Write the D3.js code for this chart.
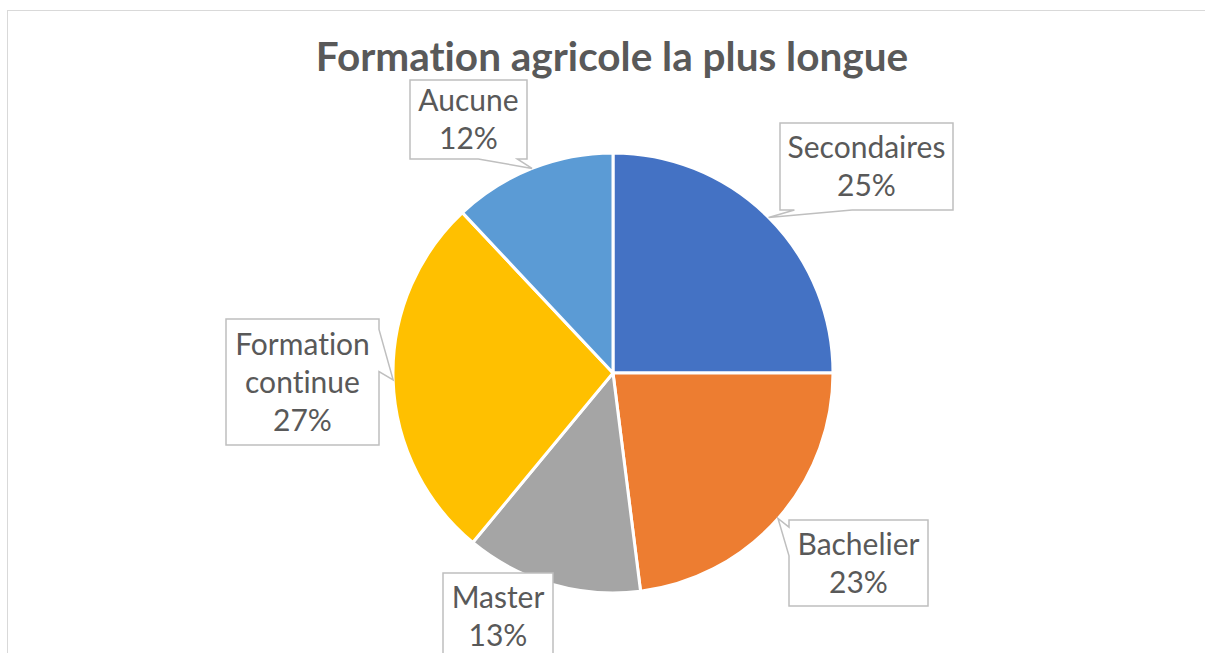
<!DOCTYPE html>
<html>
<head>
<meta charset="utf-8">
<script src="https://cdn.jsdelivr.net/npm/d3@7"></script>
<style>
  body { margin: 0; background: #fff; }
  svg { display: block; }
  text { font-variant-ligatures: none; }
</style>
</head>
<body>
<svg id="chart" width="1205" height="653"></svg>
<script>
// data (percent of answers)
var categories = ["Secondaires", "Bachelier", "Master", "Formation continue", "Aucune"];
var values = [25, 23, 13, 27, 12];
var colors = ["#4472C4", "#ED7D31", "#A5A5A5", "#FFC000", "#5B9BD5"];
// label text split the way the boxes wrap it
var labelLines = [["Secondaires"], ["Bachelier"], ["Master"], ["Formation", "continue"], ["Aucune"]];
// callout boxes, as placed in the original (x, y, w, h)
var labelBoxes = [
  [780, 123, 173, 87],
  [789, 520, 139, 86],
  [443, 573, 110, 86],
  [226, 319, 153, 126],
  [410, 80, 117, 79]
];

var svg = d3.select("#chart");
var cx = 613, cy = 373, radius = 220;
var textColor = "#595959";

// chart frame (only top and left edges fall inside the picture)
svg.append("rect")
  .attr("x", 7.5).attr("y", 10.5)
  .attr("width", 1300).attr("height", 800)
  .attr("fill", "none").attr("stroke", "#D9D9D9").attr("stroke-width", 1);

svg.append("text")
  .attr("x", 612).attr("y", 71)
  .attr("text-anchor", "middle")
  .attr("font-family", "Lato, 'Open Sans', sans-serif")
  .attr("font-weight", "bold")
  .attr("font-size", 40.5)
  .attr("fill", textColor)
  .text("Formation agricole la plus longue");

var pie = d3.pie().sort(null).value(function(d) { return d; });
var arcs = pie(values);
var arc = d3.arc().innerRadius(0).outerRadius(radius);

var g = svg.append("g").attr("transform", "translate(" + cx + "," + cy + ")");
g.selectAll("path.slice")
  .data(arcs)
  .enter().append("path")
  .attr("class", "slice")
  .attr("d", arc)
  .attr("fill", function(d, i) { return colors[i]; })
  .attr("stroke", "#fff")
  .attr("stroke-width", 3)
  .attr("stroke-linejoin", "round");

// Excel style wedge callout: box with a pointer to the tip
function calloutPath(b, tx, ty) {
  var x0 = b[0], y0 = b[1], w = b[2], h = b[3], x1 = x0 + w, y1 = y0 + h;
  var hc = x0 + w / 2, vc = y0 + h / 2;
  var dx = tx - hc, dy = ty - vc;
  var p = d3.path();
  p.moveTo(x0, y0);
  if (Math.abs(dx) < w / 2 + 2 && Math.abs(dy) < h / 2 + 2) {
    p.lineTo(x1, y0); p.lineTo(x1, y1); p.lineTo(x0, y1); p.closePath();
    return p.toString();
  }
  var vert = Math.abs(dy) / h > Math.abs(dx) / w;
  var a, c;
  if (vert) {
    a = dx < 0 ? x0 + w / 12 : x0 + 7 * w / 12;
    c = dx < 0 ? x0 + 5 * w / 12 : x0 + 11 * w / 12;
  } else {
    a = dy < 0 ? y0 + h / 12 : y0 + 7 * h / 12;
    c = dy < 0 ? y0 + 5 * h / 12 : y0 + 11 * h / 12;
  }
  // top edge
  if (vert && dy < 0) { p.lineTo(a, y0); p.lineTo(tx, ty); p.lineTo(c, y0); }
  p.lineTo(x1, y0);
  // right edge
  if (!vert && dx > 0) { p.lineTo(x1, a); p.lineTo(tx, ty); p.lineTo(x1, c); }
  p.lineTo(x1, y1);
  // bottom edge (right to left)
  if (vert && dy > 0) { p.lineTo(c, y1); p.lineTo(tx, ty); p.lineTo(a, y1); }
  p.lineTo(x0, y1);
  // left edge (bottom to top)
  if (!vert && dx < 0) { p.lineTo(x0, c); p.lineTo(tx, ty); p.lineTo(x0, a); }
  p.closePath();
  return p.toString();
}

var labels = svg.append("g");
arcs.forEach(function(d, i) {
  var mid = (d.startAngle + d.endAngle) / 2;
  var tx = cx + radius * Math.sin(mid);
  var ty = cy - radius * Math.cos(mid);
  var b = labelBoxes[i];
  labels.append("path")
    .attr("d", calloutPath(b, tx, ty))
    .attr("fill", "#fff")
    .attr("stroke", "#BFBFBF")
    .attr("stroke-width", 1.5);

  var lines = labelLines[i].concat([Math.round(d.data) + "%"]);
  var lineH = 38;
  var startY = b[1] + b[3] / 2 - (lines.length - 1) * lineH / 2;
  var t = labels.append("text")
    .attr("text-anchor", "middle")
    .attr("font-family", "Lato, 'Open Sans', sans-serif")
    .attr("font-size", 30)
    .attr("fill", textColor);
  lines.forEach(function(s, k) {
    t.append("tspan")
      .attr("x", b[0] + b[2] / 2)
      .attr("y", startY + k * lineH)
      .attr("dy", "0.35em")
      .text(s);
  });
});
</script>
</body>
</html>
